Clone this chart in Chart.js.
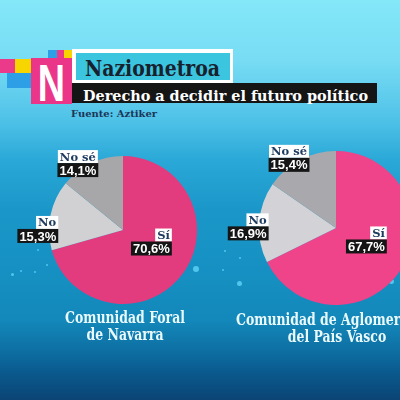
<!DOCTYPE html>
<html>
<head>
<meta charset="utf-8">
<script src="https://cdn.jsdelivr.net/npm/chart.js@4.4.1/dist/chart.umd.min.js"></script>
<style>
  html, body { margin: 0; padding: 0; }
  body {
    width: 400px; height: 400px; overflow: hidden; position: relative;
    background: linear-gradient(to bottom,
      #84e8f9 0px, #78dcf4 60px, #4fc2e8 120px, #2aa8d7 160px,
      #1a97c8 210px, #1690c2 270px, #1388ba 320px, #0e70a4 350px,
      #0a5a8e 372px, #0b4475 400px);
  }
  .sq { position: absolute; }
  .pink { background: #ec3a8b; }
  .yellow { background: #f6d500; }
  .blue { background: #2c9fe6; }
  .dot { position: absolute; border-radius: 50%; background: #5ad0f4; opacity: 0.85; }
  #logoN {
    position: absolute; left: 31px; top: 58px; width: 41px; height: 46px;
    background: #ea3589; color: #fff; overflow: hidden;
    font: bold 51px "Liberation Sans", Arial, sans-serif;
    display: flex; align-items: center; justify-content: center;
  }
  #logoN span { display: block; transform: scaleX(0.74); line-height: 1; margin-top: 4px; }
  #titleBox {
    position: absolute; left: 72px; top: 49px; width: 154px; height: 27px;
    background: #3cc5df; border: solid #fff; border-width: 4px 3px 3px 4px;
  }
  .txt { position: absolute; white-space: nowrap; line-height: 1; transform-origin: 0 0; }
  #title { left: 85px; top: 55px; color: #17222e; font: bold 22px "DejaVu Serif", serif; }
  #blackBar { position: absolute; left: 72px; top: 83px; width: 305px; height: 20px; background: #151515; }
  #subtitle { left: 83px; top: 86px; color: #fff; font: bold 15.5px "DejaVu Serif", serif; }
  #source { left: 71px; top: 108px; color: #1b3658; font: bold 10px "DejaVu Serif", serif; }
  canvas { position: absolute; }
  #navarraChart { left: 0px; top: 140px; }
  #vascoChart { left: 200px; top: 138px; }
  .caption {
    position: absolute; width: 300px; margin-left: -150px; text-align: center;
    color: #e9f9fc; font: bold 16px "DejaVu Serif", serif; line-height: 17px;
  }
  .caption div { transform-origin: 50% 0; white-space: nowrap; }
</style>
</head>
<body>
  <div class="sq pink" style="left:0;top:59px;width:15px;height:14px"></div>
  <div class="sq yellow" style="left:15px;top:59px;width:16px;height:14px"></div>
  <div class="sq blue" style="left:7px;top:73px;width:24px;height:15px"></div>
  <div class="sq blue" style="left:48px;top:50px;width:9px;height:8px"></div>
  <div class="sq pink" style="left:57px;top:50px;width:7px;height:8px"></div>
  <div class="sq yellow" style="left:64px;top:50px;width:8px;height:8px"></div>
  <div id="logoN"><span>N</span></div>
  <div id="titleBox"></div>
  <div id="blackBar"></div>
  <div class="txt" id="title" data-fit="135">Naziometroa</div>
  <div class="txt" id="subtitle" data-fit="285">Derecho a decidir el futuro político</div>
  <div class="txt" id="source" data-fit="86">Fuente: Aztiker</div>

  <!-- background sparkles -->
  <div class="dot" style="left:193px;top:266px;width:6px;height:6px"></div>
  <div class="dot" style="left:11px;top:273px;width:3px;height:3px"></div>
  <div class="dot" style="left:20px;top:270px;width:2px;height:2px"></div>
  <div class="dot" style="left:34px;top:271px;width:2px;height:2px"></div>
  <div class="dot" style="left:46px;top:264px;width:2px;height:2px"></div>
  <div class="dot" style="left:37px;top:249px;width:2px;height:2px"></div>
  <div class="dot" style="left:237px;top:281px;width:5px;height:5px"></div>
  <div class="dot" style="left:389px;top:279px;width:5px;height:5px"></div>
  <div class="dot" style="left:224px;top:250px;width:2px;height:2px"></div>
  <div class="dot" style="left:239px;top:257px;width:2px;height:2px"></div>
  <div class="dot" style="left:222px;top:269px;width:2px;height:2px"></div>

  <canvas id="navarraChart" width="246" height="180"></canvas>
  <canvas id="vascoChart" width="272" height="180"></canvas>

  <div class="caption" id="navarraCaption" style="left:125px;top:309px"></div>
  <div class="caption" id="vascoCaption" style="left:337px;top:311px"></div>

<script>
// data
const categories = ['Sí', 'No', 'No sé'];
const navarraValues = [70.6, 15.3, 14.1];
const vascoValues = [67.7, 16.9, 15.4];
const navarraCaption = ['Comunidad Foral', 'de Navarra'];
const vascoCaption = ['Comunidad de Aglomeración', 'del País Vasco'];

function fmt(v) {
  return v.toFixed(1).replace('.', ',') + '%';
}

// squeeze header text to the widths seen in the picture
const measureCtx = document.createElement('canvas').getContext('2d');
function textWidth(text, font) {
  measureCtx.font = font;
  return measureCtx.measureText(text).width;
}
document.querySelectorAll('[data-fit]').forEach(el => {
  const cs = getComputedStyle(el);
  const w = textWidth(el.textContent, cs.fontWeight + ' ' + cs.fontSize + ' ' + cs.fontFamily);
  el.style.transform = 'scaleX(' + (parseFloat(el.dataset.fit) / w) + ')';
});

// captions under each pie, same squeeze for all lines
const captionFont = 'bold 16px "DejaVu Serif"';
const captionScale = 120 / textWidth(navarraCaption[0], captionFont);
function fillCaption(id, lines) {
  const box = document.getElementById(id);
  lines.forEach(line => {
    const d = document.createElement('div');
    d.textContent = line;
    d.style.transform = 'scaleX(' + captionScale + ')';
    box.appendChild(d);
  });
}
fillCaption('navarraCaption', navarraCaption);
fillCaption('vascoCaption', vascoCaption);

// label spots, as fractions of the pie radius from its centre
const labelSpots = [
  { x: 0.66, y: -0.02, align: 'right' },
  { x: -0.875, y: -0.19, align: 'right' },
  { x: -0.61, y: -1.08, align: 'center' }
];

const sliceLabels = {
  id: 'sliceLabels',
  afterDatasetsDraw(chart) {
    const ctx = chart.ctx;
    const meta = chart.getDatasetMeta(0);
    const values = chart.data.datasets[0].data;
    meta.data.forEach((arc, i) => {
      const spot = labelSpots[i];
      const r = arc.outerRadius;
      const ax = arc.x + spot.x * r;
      const top = arc.y + spot.y * r;
      const rows = [
        { text: chart.data.labels[i], font: 'bold 11.5px "DejaVu Serif"', bg: '#ffffff', fg: '#1d3a5f', h: 13 },
        { text: fmt(values[i]), font: 'bold 13px "Liberation Sans"', bg: '#151515', fg: '#ffffff', h: 14 }
      ];
      let y = top;
      ctx.save();
      ctx.textBaseline = 'middle';
      rows.forEach(row => {
        ctx.font = row.font;
        const w = ctx.measureText(row.text).width + 4;
        const left = spot.align === 'right' ? ax - w : ax - w / 2;
        ctx.fillStyle = row.bg;
        ctx.fillRect(left, y, w, row.h);
        ctx.fillStyle = row.fg;
        ctx.textAlign = 'left';
        ctx.fillText(row.text, left + 2, y + row.h / 2 + 1);
        y += row.h;
      });
      ctx.restore();
    });
  }
};

function makePie(id, values, colors, pad) {
  return new Chart(document.getElementById(id), {
    type: 'pie',
    data: {
      labels: categories,
      datasets: [{
        data: values,
        backgroundColor: colors,
        borderWidth: 0,
        hoverOffset: 0
      }]
    },
    options: {
      responsive: false,
      animation: false,
      events: [],
      layout: { padding: pad },
      plugins: {
        legend: { display: false },
        tooltip: { enabled: false }
      }
    },
    plugins: [sliceLabels]
  });
}

makePie('navarraChart', navarraValues, ['#e23c7f', '#d1d1d4', '#a7a7aa'],
  { left: 49, right: 49, top: 16, bottom: 16 });
makePie('vascoChart', vascoValues, ['#ef438a', '#d3d3d7', '#a9a9ad'],
  { left: 59, right: 59, top: 13, bottom: 13 });
</script>
</body>
</html>
